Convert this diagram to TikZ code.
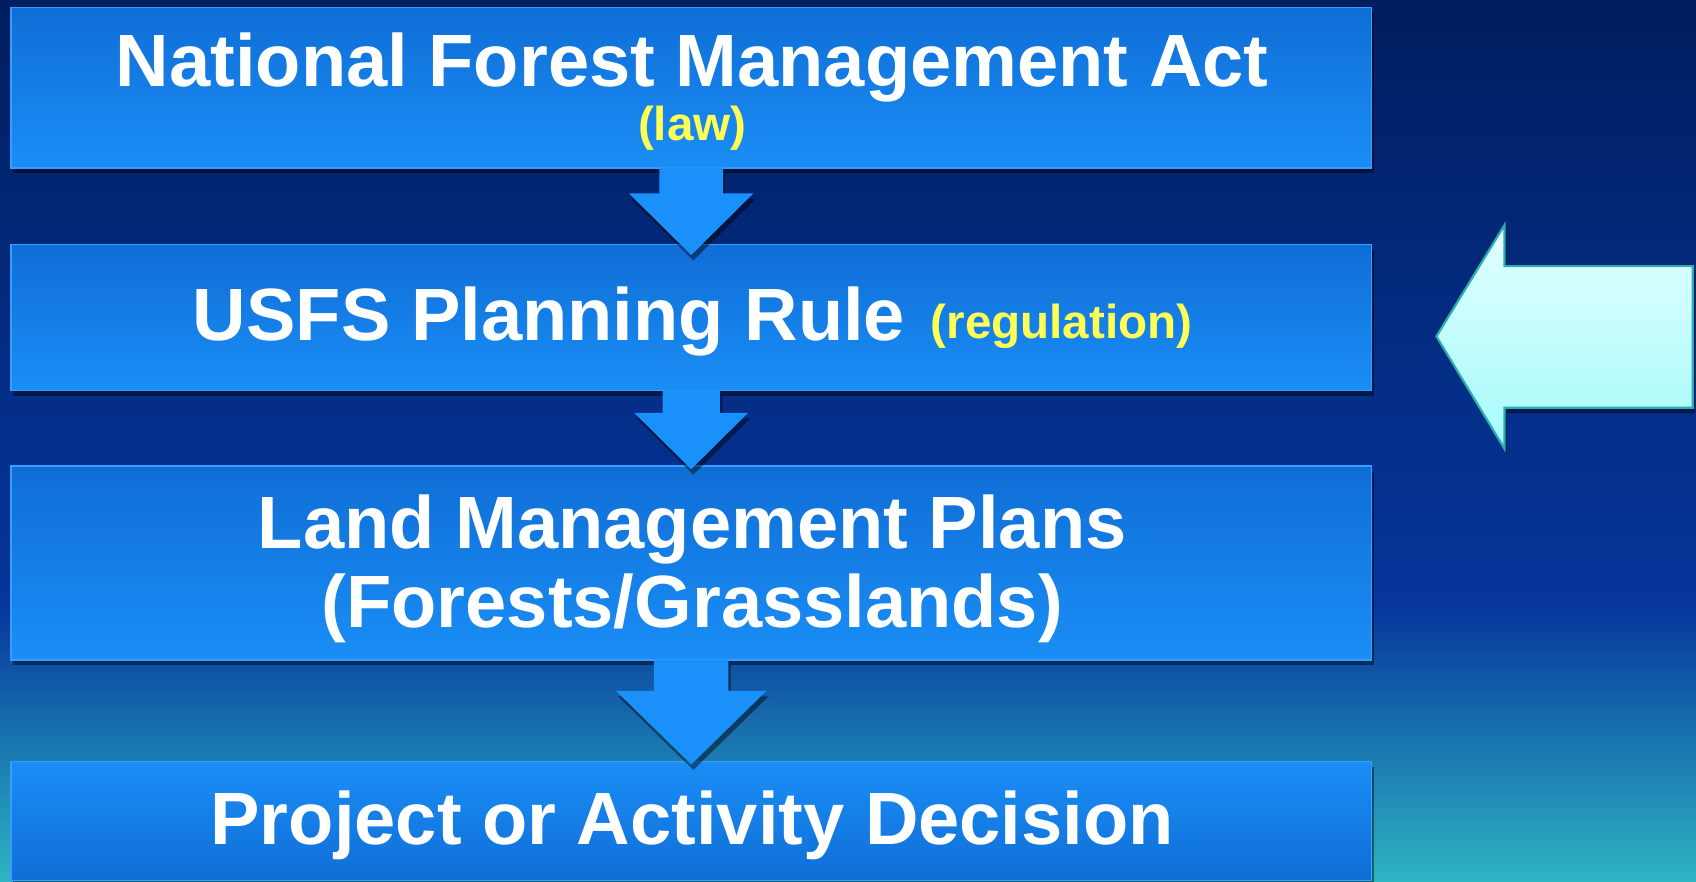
\documentclass[tikz,border=0pt]{standalone}
\usepackage{fontspec}
\setmainfont{Liberation Sans}
\usetikzlibrary{shadows,calc}
\definecolor{bgtop}{HTML}{001E60}
\definecolor{bgmid}{HTML}{06369C}
\definecolor{bgbot}{HTML}{2DB5C2}
\definecolor{boxtop}{HTML}{0F6ED6}
\definecolor{boxbot}{HTML}{1A8EF6}
\definecolor{boxedge}{HTML}{3A9CFF}
\definecolor{arrowblue}{HTML}{1A90FA}
\definecolor{noteyellow}{HTML}{FFFF55}
\definecolor{cyantop}{HTML}{E2FFFF}
\definecolor{cyanbot}{HTML}{A6FBFB}
\definecolor{cyanedge}{HTML}{2AAFB0}
\begin{document}
\begin{tikzpicture}[x=0.5pt,y=-0.5pt,
  shad/.style={drop shadow={shadow xshift=1pt,shadow yshift=-2.5pt,opacity=0.45,fill=black}},
  box/.style={rectangle,draw=boxedge,line width=0.8pt,top color=boxtop,bottom color=boxbot,inner sep=0pt,minimum width=629pt,shad},
  boxr/.style={box,top color=boxbot,bottom color=boxtop},
  title/.style={text=white,font=\bfseries\fontsize{34.25}{36.5}\selectfont,inner sep=0pt,anchor=base},
  note/.style={text=noteyellow,font=\bfseries\fontsize{22}{24}\selectfont,inner sep=0pt,anchor=base},
  flow/.style={fill=arrowblue,draw=none,shad},
  side/.style={draw=cyanedge,line width=1pt,top color=cyantop,bottom color=cyanbot,line join=miter,shad}
]
\useasboundingbox (0,0) rectangle (1568,815);
\shade[top color=bgtop,bottom color=bgmid] (0,0) rectangle (1568,561);
\shade[top color=bgmid,bottom color=bgbot] (0,560) rectangle (1568,815);

% boxes
\node[box,minimum height=74pt] (b1) at (639,81) {};
\node[box,minimum height=67.5pt] (b2) at (639,293.5) {};
\node[box,minimum height=89.5pt] (b3) at (639,520.5) {};
\node[boxr,minimum height=55pt] (b4) at (639,759) {};

% down arrows
\draw[flow] ($(b1.south)+(-29.5,-1)$) -- ++(0,24) -- ++(-28,0) -- ++(57.5,57) -- ++(57.5,-57) -- ++(-28,0) -- ++(0,-24) -- cycle;
\draw[flow] ($(b2.south)+(-26.5,-1)$) -- ++(0,21) -- ++(-26,0) -- ++(52.5,52) -- ++(52.5,-52) -- ++(-26,0) -- ++(0,-21) -- cycle;
\draw[flow] ($(b3.south)+(-34.5,-1)$) -- ++(0,29) -- ++(-35,0) -- ++(69.5,68) -- ++(69.5,-68) -- ++(-35,0) -- ++(0,-29) -- cycle;

% texts
\node[title] (t1) at (640,80) {National Forest Management Act};
\node[note] (n1) at (640,130) {(law)};
\node[title,anchor=base west] (t2) at (178,315) {USFS Planning Rule};
\node[note,anchor=base west] (n2) at (860,313) {(regulation)};
\node[title] (t3a) at (640,507) {Land Management Plans};
\node[title] (t3b) at (640,580) {(Forests/Grasslands)};
\node[title] (t4) at (640,781) {Project or Activity Decision};

% side arrow
\draw[side] (1328,311) -- (1391,208) -- (1391,246) -- (1565,246) -- (1565,377) -- (1391,377) -- (1391,415) -- cycle;
\end{tikzpicture}
\end{document}
